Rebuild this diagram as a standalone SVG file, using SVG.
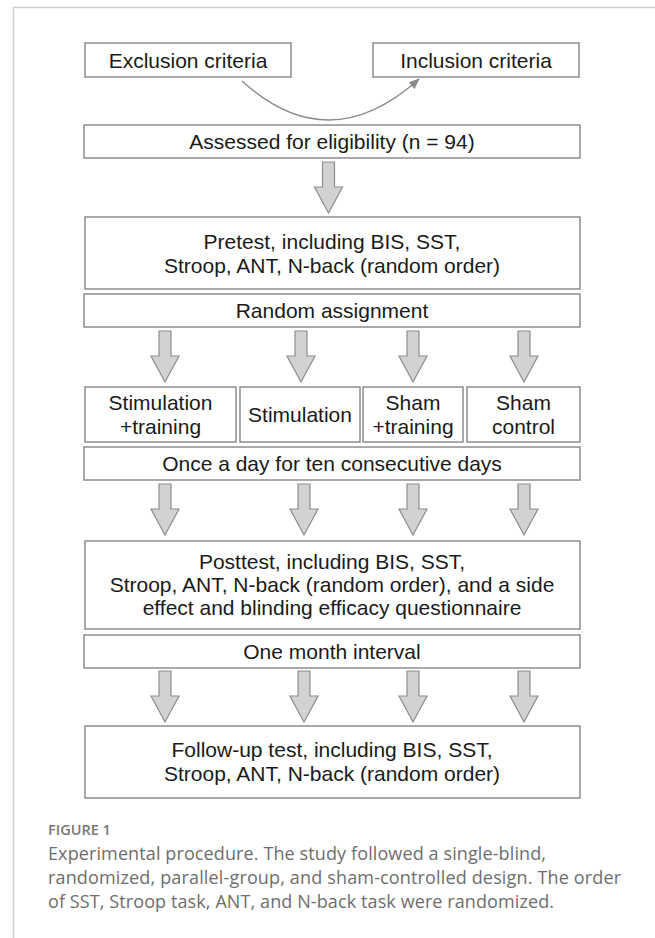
<svg xmlns="http://www.w3.org/2000/svg" width="655" height="938" viewBox="0 0 655 938">
<style>
.box{fill:#fff;stroke:#858585;stroke-width:1.4}
.t{font-family:"Liberation Sans",Arial,sans-serif;font-size:21px;fill:#1a1a1a;text-anchor:middle}
.blk{fill:#d2d2d2;stroke:#8e8e8e;stroke-width:1.2}
.cap{font-family:"Open Sans","Noto Sans",sans-serif;font-size:18px;fill:#6e6e6e}
.fig{font-family:"Open Sans","Noto Sans",sans-serif;font-size:14.5px;font-weight:600;fill:#777}
</style>
<defs>
<path id="barrow" class="blk" d="M-6,0 H6 V25 H14 L0,51 L-14,25 H-6 Z"/>
<marker id="ah" markerWidth="11" markerHeight="9" refX="10" refY="4.5" orient="auto" markerUnits="userSpaceOnUse">
<path d="M0,0 L11,4.5 L0,9 Z" fill="#8a8a8a"/>
</marker>
</defs>
<rect x="13.5" y="7.5" width="700" height="1000" fill="none" stroke="#cfcfcf" stroke-width="1.5"/>

<g id="exclusion"><rect class="box" x="85" y="43" width="206" height="34"/><text class="t" x="188" y="67.5">Exclusion criteria</text></g>
<g id="inclusion"><rect class="box" x="373" y="43" width="206" height="34"/><text class="t" x="476" y="67.5">Inclusion criteria</text></g>
<g id="assessed"><rect class="box" x="84" y="125" width="496" height="33"/><text class="t" x="332" y="149">Assessed for eligibility (n = 94)</text></g>
<g id="pretest"><rect class="box" x="85" y="217" width="495" height="72"/><text class="t" x="332" y="248.5">Pretest, including BIS, SST,</text><text class="t" x="332" y="272.5">Stroop, ANT, N-back (random order)</text></g>
<g id="random"><rect class="box" x="84" y="294" width="496" height="33"/><text class="t" x="332" y="318">Random assignment</text></g>
<g id="stimtrain"><rect class="box" x="85" y="387" width="151" height="55"/><text class="t" x="160.5" y="409.5">Stimulation</text><text class="t" x="160.5" y="433.5">+training</text></g>
<g id="stim"><rect class="box" x="240" y="387" width="120" height="55"/><text class="t" x="300" y="421.5">Stimulation</text></g>
<g id="shamtrain"><rect class="box" x="363" y="387" width="100" height="55"/><text class="t" x="413" y="409.5">Sham</text><text class="t" x="413" y="433.5">+training</text></g>
<g id="shamcontrol"><rect class="box" x="467" y="387" width="113" height="55"/><text class="t" x="523.5" y="409.5">Sham</text><text class="t" x="523.5" y="433.5">control</text></g>
<g id="onceaday"><rect class="box" x="84" y="447" width="496" height="33"/><text class="t" x="332" y="471">Once a day for ten consecutive days</text></g>
<g id="posttest"><rect class="box" x="85" y="541" width="495" height="88"/><text class="t" x="332" y="568.5">Posttest, including BIS, SST,</text><text class="t" x="332" y="591.5">Stroop, ANT, N-back (random order), and a side</text><text class="t" x="332" y="614.5">effect and blinding efficacy questionnaire</text></g>
<g id="onemonth"><rect class="box" x="84" y="635" width="496" height="33"/><text class="t" x="332" y="659">One month interval</text></g>
<g id="followup"><rect class="box" x="85" y="726" width="495" height="72"/><text class="t" x="332" y="757">Follow-up test, including BIS, SST,</text><text class="t" x="332" y="780.5">Stroop, ANT, N-back (random order)</text></g>

<g id="connectors">
<path d="M242,81 Q329,160 419,79" fill="none" stroke="#8a8a8a" stroke-width="1.3" marker-end="url(#ah)"/>
<use href="#barrow" x="328.5" y="162"/>
<use href="#barrow" x="165" y="331"/>
<use href="#barrow" x="301" y="331"/>
<use href="#barrow" x="413" y="331"/>
<use href="#barrow" x="524" y="331"/>
<use href="#barrow" x="165" y="484"/>
<use href="#barrow" x="304" y="484"/>
<use href="#barrow" x="413" y="484"/>
<use href="#barrow" x="524" y="484"/>
<use href="#barrow" x="165" y="671"/>
<use href="#barrow" x="304" y="671"/>
<use href="#barrow" x="413" y="671"/>
<use href="#barrow" x="524" y="671"/>
</g>

<g id="caption">
<text class="fig" x="48" y="835">FIGURE 1</text>
<text class="cap" x="48" y="860" textLength="498" lengthAdjust="spacing">Experimental procedure. The study followed a single-blind,</text>
<text class="cap" x="48" y="884" textLength="573" lengthAdjust="spacing">randomized, parallel-group, and sham-controlled design. The order</text>
<text class="cap" x="48" y="908" textLength="506" lengthAdjust="spacing">of SST, Stroop task, ANT, and N-back task were randomized.</text>
</g>
</svg>
